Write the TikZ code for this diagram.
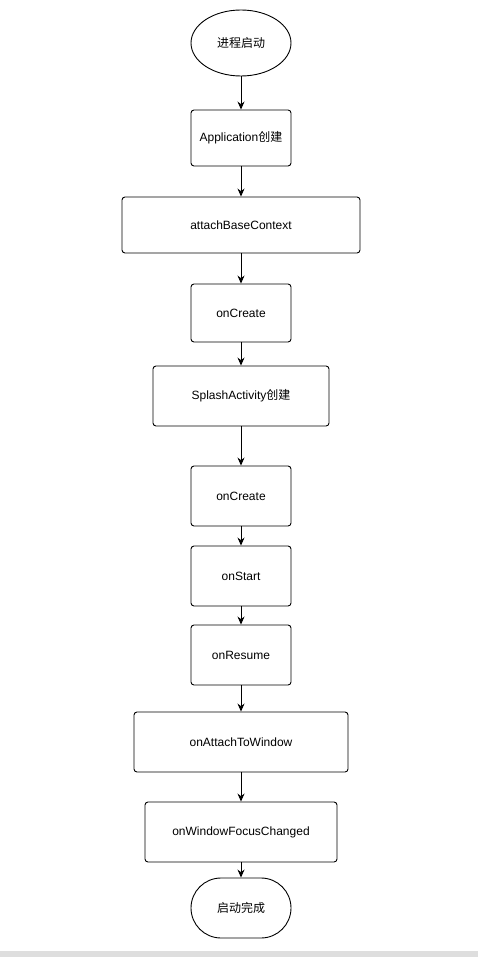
\documentclass[tikz,border=0pt]{standalone}
\usepackage{fontspec}
\setmainfont{Liberation Sans}
\newfontfamily\cjk{Noto Sans CJK SC}
\usetikzlibrary{arrows.meta,shapes.geometric}
\begin{document}
\begin{tikzpicture}[x=1pt,y=-1pt,
  every node/.style={font=\fontsize{12}{14}\selectfont, line width=0.9pt, inner sep=0pt},
  box/.style={draw, rounded corners=3pt, minimum height=#1},
  arr/.style={line width=0.9pt, -{Stealth[length=8pt,width=7pt]}}]
\useasboundingbox (0,0) rectangle (478,957);
\fill[fill={rgb,255:red,222;green,222;blue,222}] (0,951) rectangle (478,957);
\node[draw, ellipse, minimum width=100pt, minimum height=66pt] (start) at (241,43) {\cjk 进程启动};
\node[box=56pt, minimum width=100pt] (app) at (241,138) {Application{\cjk 创建}};
\node[box=56pt, minimum width=238pt] (abc) at (241,225) {attachBaseContext};
\node[box=58pt, minimum width=100pt] (oc1) at (241,313) {onCreate};
\node[box=60pt, minimum width=176pt] (spl) at (241,396) {SplashActivity{\cjk 创建}};
\node[box=60pt, minimum width=100pt] (oc2) at (241,496) {onCreate};
\node[box=60pt, minimum width=100pt] (ost) at (241,576) {onStart};
\node[box=60pt, minimum width=100pt] (ores) at (241,655) {onResume};
\node[box=60pt, minimum width=214pt] (oatw) at (241,742) {onAttachToWindow};
\node[box=60pt, minimum width=192pt] (owfc) at (241,832) {onWindowFocusChanged};
\node[draw, rounded corners=30pt, minimum width=100pt, minimum height=60pt] (done) at (241,908) {\cjk 启动完成};
\draw[arr] (start) -- (app);
\draw[arr] (app) -- (abc);
\draw[arr] (abc) -- (oc1);
\draw[arr] (oc1) -- (spl);
\draw[arr] (spl) -- (oc2);
\draw[arr] (oc2) -- (ost);
\draw[arr] (ost) -- (ores);
\draw[arr] (ores) -- (oatw);
\draw[arr] (oatw) -- (owfc);
\draw[arr] (owfc) -- (done);
\end{tikzpicture}
\end{document}
